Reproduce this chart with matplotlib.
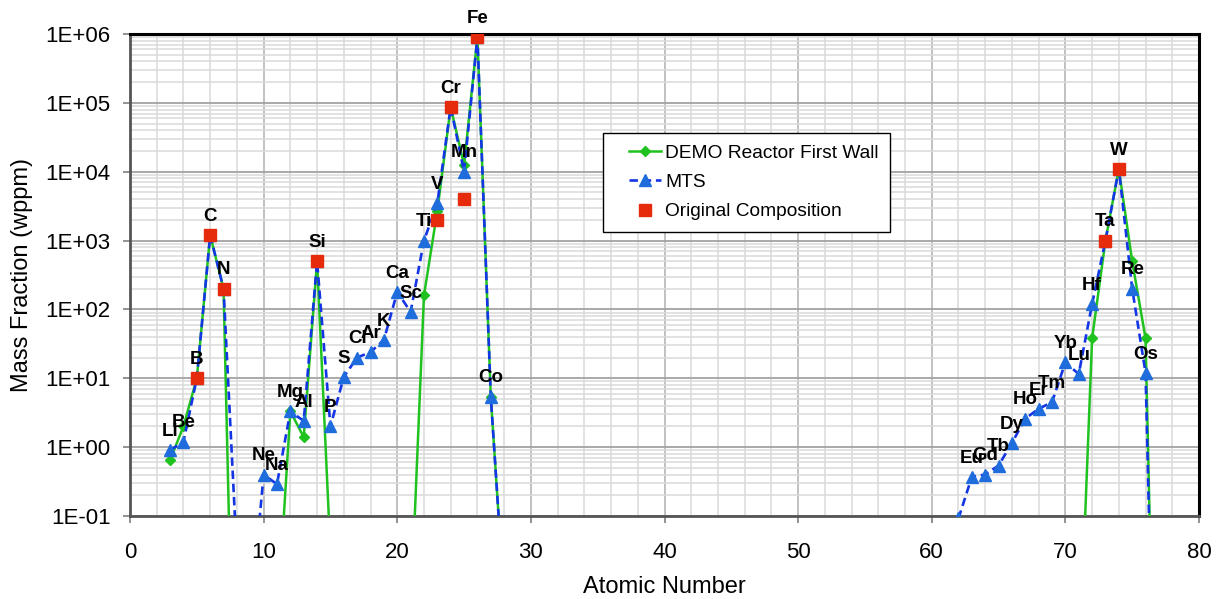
"""Mass fraction vs atomic number: DEMO first wall vs MTS vs original composition (log scale)."""

import matplotlib
matplotlib.use("Agg")
import matplotlib.pyplot as plt  # noqa: E402
import numpy as np  # noqa: E402
from matplotlib.legend_handler import HandlerLine2D  # noqa: E402
from matplotlib.lines import Line2D  # noqa: E402
from matplotlib.ticker import FuncFormatter, LogLocator, MultipleLocator, NullFormatter  # noqa: E402

nan = np.nan

# light block, Li .. Ni
LIGHT_Z = [3, 4, 5, 6, 7, 8, 9, 10, 11, 12, 13, 14, 15, 16, 17, 18, 19, 20, 21, 22, 23, 24, 25, 26, 27, 28]
LIGHT_SYM = ["Li", "Be", "B", "C", "N", "O", "F", "Ne", "Na", "Mg", "Al", "Si", "P", "S", "Cl", "Ar",
             "K", "Ca", "Sc", "Ti", "V", "Cr", "Mn", "Fe", "Co", "Ni"]
MTS_LIGHT = [0.9, 1.2, 10, 1200, 200, 0.026, 0.003, 0.4, 0.29, 3.3, 2.4, 500, 2.0, 10.5, 20, 24,
             36, 180, 92, 1000, 3500, 87000, 10000, 900000, 5.4, 0.006]
DEMO_LIGHT = [0.65, 2.0, 10, 1200, 200, 1.1e-6, nan, nan, 0.0026, 3.3, 1.4, 500, 0.03, nan, nan, nan,
              nan, nan, 0.0036, 160, 2700, 87000, 12500, 900000, 5.4, 0.006]

# heavy block, Sm .. Ir
HEAVY_Z = [62, 63, 64, 65, 66, 67, 68, 69, 70, 71, 72, 73, 74, 75, 76, 77]
HEAVY_SYM = ["Sm", "Eu", "Gd", "Tb", "Dy", "Ho", "Er", "Tm", "Yb", "Lu", "Hf", "Ta", "W", "Re", "Os", "Ir"]
MTS_HEAVY = [0.092, 0.37, 0.40, 0.54, 1.15, 2.6, 3.6, 4.5, 17, 11.5, 120, 1000, 11000, 200, 12, 1e-7]
DEMO_HEAVY = [nan, nan, nan, nan, nan, nan, nan, nan, nan, 0.0004, 38, 1000, 11000, 500, 38, 1e-7]

# original steel composition
ORIG_Z = [5, 6, 7, 14, 23, 24, 25, 26, 73, 74]
ORIG_WPPM = [10, 1200, 200, 500, 2000, 87000, 4000, 900000, 1000, 11000]

GREEN = "#1fc21f"
BLUE_LINE = "#1435e6"
BLUE_MARK = "#1f6cdc"
RED = "#e62a0c"


def main():
    plt.rcParams["font.family"] = ["Liberation Sans", "DejaVu Sans"]

    # one x array with a gap between the two blocks
    z = LIGHT_Z + [nan] + HEAVY_Z
    mts = MTS_LIGHT + [nan] + MTS_HEAVY
    demo = DEMO_LIGHT + [nan] + DEMO_HEAVY
    sym = LIGHT_SYM + [""] + HEAVY_SYM

    fig = plt.figure(figsize=(12.23, 5.99), dpi=100)
    ax = fig.add_axes([130 / 1223, 1 - 516 / 599, 1069 / 1223, 482 / 599])

    ax.plot(z, demo, "-", color=GREEN, lw=1.8, marker="D", ms=5, mfc=GREEN, mec=GREEN,
            label="DEMO Reactor First Wall", zorder=3)
    ax.plot(z, mts, color=BLUE_LINE, lw=1.9, ls=(0, (3.2, 1.8)), marker="^", ms=8,
            mfc=BLUE_MARK, mec=BLUE_MARK, label="MTS", zorder=4)
    ax.plot(ORIG_Z, ORIG_WPPM, "s", color=RED, ms=9, label="Original Composition", zorder=5)

    # element labels sit above the MTS points
    for zi, v, s in zip(z, mts, sym):
        if not s or not np.isfinite(v) or v < 0.1:
            continue
        ax.annotate(s, (zi, v), xytext=(0, 13.5), textcoords="offset points", ha="center",
                    va="center", fontsize=13.5, fontweight="bold", zorder=6)

    ax.set_yscale("log")
    ax.set_xlim(0, 80)
    ax.set_ylim(0.1, 1e6)
    ax.xaxis.set_major_locator(MultipleLocator(10))
    ax.xaxis.set_minor_locator(MultipleLocator(2))
    ax.yaxis.set_major_locator(LogLocator(base=10, numticks=12))
    ax.yaxis.set_minor_locator(LogLocator(base=10, subs=np.arange(2, 10), numticks=12))
    ax.yaxis.set_minor_formatter(NullFormatter())
    ax.yaxis.set_major_formatter(FuncFormatter(lambda v, _: f"1E{int(round(np.log10(v))):+03d}"))

    ax.set_axisbelow(True)
    ax.grid(which="major", axis="x", color="#bcbcbc", lw=1.3)
    ax.grid(which="major", axis="y", color="#a2a2a2", lw=1.3)
    ax.grid(which="minor", color="#dadada", lw=1.1)

    ax.tick_params(which="major", direction="out", length=5, width=1.2, color="#808080", labelsize=16)
    ax.tick_params(which="minor", length=0)
    ax.tick_params(axis="x", pad=14)
    ax.tick_params(axis="y", pad=9)
    for side in ("top", "right"):
        ax.spines[side].set_color("black")
        ax.spines[side].set_linewidth(2.2)
    for side in ("left", "bottom"):
        ax.spines[side].set_color("#555555")
        ax.spines[side].set_linewidth(2.0)

    ax.set_xlabel("Atomic Number", fontsize=17, labelpad=9)
    ax.set_ylabel("Mass Fraction (wppm)", fontsize=17, labelpad=9)

    # xpad pushes the legend keys right, like the Excel legend
    leg = ax.legend(loc="upper left", bbox_to_anchor=(0.4425, 0.795), borderaxespad=0, fontsize=13.8,
                    frameon=True, fancybox=False, edgecolor="black", framealpha=1, handlelength=2.45,
                    handletextpad=0.2, labelspacing=0.62, borderpad=0.6,
                    handler_map={Line2D: HandlerLine2D(xpad=0.75)})
    leg.get_frame().set_linewidth(1.0)

    fig.savefig("out.png", dpi=100)
    return 0


if __name__ == "__main__":
    raise SystemExit(main())
